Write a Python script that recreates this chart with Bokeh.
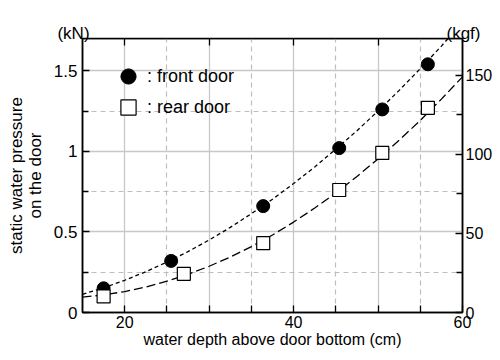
from bokeh.plotting import figure
from bokeh.models import (Range1d, LinearAxis, FixedTicker, Legend, LegendItem,
                          Label, CustomJSTickFormatter)
from bokeh.embed import file_html
from bokeh.resources import INLINE

# measured points
depth_front = [17.5, 25.5, 36.4, 45.4, 50.5, 55.9]
force_front = [0.15, 0.32, 0.66, 1.02, 1.26, 1.54]
depth_rear = [17.5, 27.0, 36.4, 45.4, 50.5, 55.9]
force_rear = [0.10, 0.24, 0.43, 0.76, 0.99, 1.27]

# fitted curves
curve_x = [15, 17.5, 20, 22.5, 25, 27.5, 30, 32.5, 35, 37.5, 40,
           42.5, 45, 47.5, 50, 52.5, 55, 57.5, 60]
curve_front = [0.113, 0.153, 0.200, 0.253, 0.313, 0.378, 0.450, 0.528, 0.613,
               0.703, 0.800, 0.903, 1.013, 1.128, 1.250, 1.378, 1.513, 1.653, 1.800]
curve_rear = [0.096, 0.109, 0.130, 0.158, 0.194, 0.237, 0.287, 0.344, 0.409,
              0.481, 0.561, 0.648, 0.742, 0.844, 0.953, 1.069, 1.192, 1.324, 1.462]

X_MIN, X_MAX = 15, 60
Y_MIN, Y_MAX = 0, 1.7
x_ticks = [20, 25, 30, 35, 40, 45, 50, 55, 60]
top_ticks = [20, 30, 40, 50]
y_ticks = [0, 0.5, 1, 1.5]
y_minor = [0.25, 0.75, 1.25]
kgf_ticks = [0, 50, 100, 150]
kgf_minor = [25, 75, 125]
KGF_PER_KN = 101.972

FONT = "Liberation Sans"

p = figure(width=500, height=360,
           x_range=Range1d(X_MIN, X_MAX), y_range=Range1d(Y_MIN, Y_MAX),
           output_backend="svg", toolbar_location=None,
           min_border_left=82, min_border_right=38,
           min_border_top=33, min_border_bottom=48)
p.outline_line_color = "black"
p.outline_line_width = 1.5
p.background_fill_color = "white"
p.border_fill_color = "white"

# grids
p.xgrid.ticker = FixedTicker(ticks=[20, 30, 40, 50], minor_ticks=[25, 35, 45, 55])
p.ygrid.ticker = FixedTicker(ticks=[0.5, 1, 1.5], minor_ticks=y_minor)
for g in (p.xgrid, p.ygrid):
    g.grid_line_color = "#c8c8c8"
    g.grid_line_width = 1.3
    g.minor_grid_line_color = "#bdbdbd"
    g.minor_grid_line_width = 1.2
    g.minor_grid_line_dash = "5 4"

# bottom axis
xa = p.xaxis[0]
xa.ticker = FixedTicker(ticks=x_ticks)
xa.formatter = CustomJSTickFormatter(code="return (tick % 20 == 0) ? String(tick) : '';")
xa.axis_label = "water depth above door bottom (cm)"

# left axis
ya = p.yaxis[0]
ya.ticker = FixedTicker(ticks=y_ticks, minor_ticks=y_minor)
ya.formatter = CustomJSTickFormatter(code="return String(tick);")
ya.axis_label = "static water pressure\non the door"
ya.axis_label_text_line_height = 1.0

# right axis
p.extra_y_ranges = {"kgf": Range1d(Y_MIN * KGF_PER_KN, Y_MAX * KGF_PER_KN)}
ra = LinearAxis(y_range_name="kgf",
                ticker=FixedTicker(ticks=kgf_ticks, minor_ticks=kgf_minor),
                formatter=CustomJSTickFormatter(code="return String(tick);"))
p.add_layout(ra, "right")

# top axis (ticks only, pinned to the frame top so it takes no border space)
ta = LinearAxis(fixed_location=Y_MAX, ticker=FixedTicker(ticks=top_ticks),
                formatter=CustomJSTickFormatter(code="return '';"))
ta.major_label_text_font_size = "0px"
ta.major_label_standoff = 0
p.add_layout(ta, "above")

for ax in (xa, ya, ra, ta):
    ax.axis_line_color = "black"
    ax.axis_line_width = 1.5
    ax.major_tick_line_color = "black"
    ax.major_tick_line_width = 1.3
    ax.minor_tick_line_color = "black"
    ax.minor_tick_line_width = 1.3
    ax.major_tick_in = 7
    ax.major_tick_out = 0
    ax.minor_tick_in = 6
    ax.minor_tick_out = 0
    ax.major_label_text_font = FONT
    ax.major_label_text_color = "black"
    ax.axis_label_text_font = FONT
    ax.axis_label_text_font_style = "normal"
    ax.axis_label_text_color = "black"
    ax.axis_label_text_font_size = "17px"
xa.major_label_text_font_size = "16px"
xa.axis_label_text_font_size = "16px"
ya.major_label_text_font_size = "17px"
ra.major_label_text_font_size = "16px"
xa.major_label_standoff = 3
xa.axis_label_standoff = 0
ya.major_label_standoff = 5
ya.axis_label_standoff = 6
ra.major_label_standoff = 3

# curves
p.line(curve_x, curve_front, line_color="black", line_width=1.3, line_dash="4 3")
p.line(curve_x, curve_rear, line_color="black", line_width=1.3, line_dash="9 4")

# points
r_front = p.scatter(depth_front, force_front, marker="circle", size=13,
                    fill_color="black", line_color="black")
r_rear = p.scatter(depth_rear, force_rear, marker="square", size=13,
                   fill_color="white", line_color="black", line_width=1.2)

leg_style = dict(glyph_width=38, glyph_height=38, label_standoff=0,
                 padding=0, margin=0, border_line_color=None,
                 background_fill_alpha=0, label_text_font=FONT,
                 label_text_font_size="18px", label_text_color="black")
leg1 = Legend(items=[LegendItem(label=": front door", renderers=[r_front])],
              location=(27, 217), **leg_style)
leg2 = Legend(items=[LegendItem(label=": rear door", renderers=[r_rear])],
              location=(27, 186), **leg_style)
p.add_layout(leg1)
p.add_layout(leg2)

# unit labels (drawn in the top side panel so that they are not clipped)
UNIT_Y = Y_MAX * 1.018
p.add_layout(Label(x=X_MIN, y=UNIT_Y, x_offset=-9, text="(kN)",
                   text_align="center", text_baseline="alphabetic",
                   text_font=FONT, text_font_size="17px", text_color="black"),
             "above")
p.add_layout(Label(x=X_MAX, y=UNIT_Y, x_offset=1, text="(kgf)",
                   text_align="center", text_baseline="alphabetic",
                   text_font=FONT, text_font_size="17px", text_color="black"),
             "above")

open("out.html", "w").write(file_html(p, INLINE))
